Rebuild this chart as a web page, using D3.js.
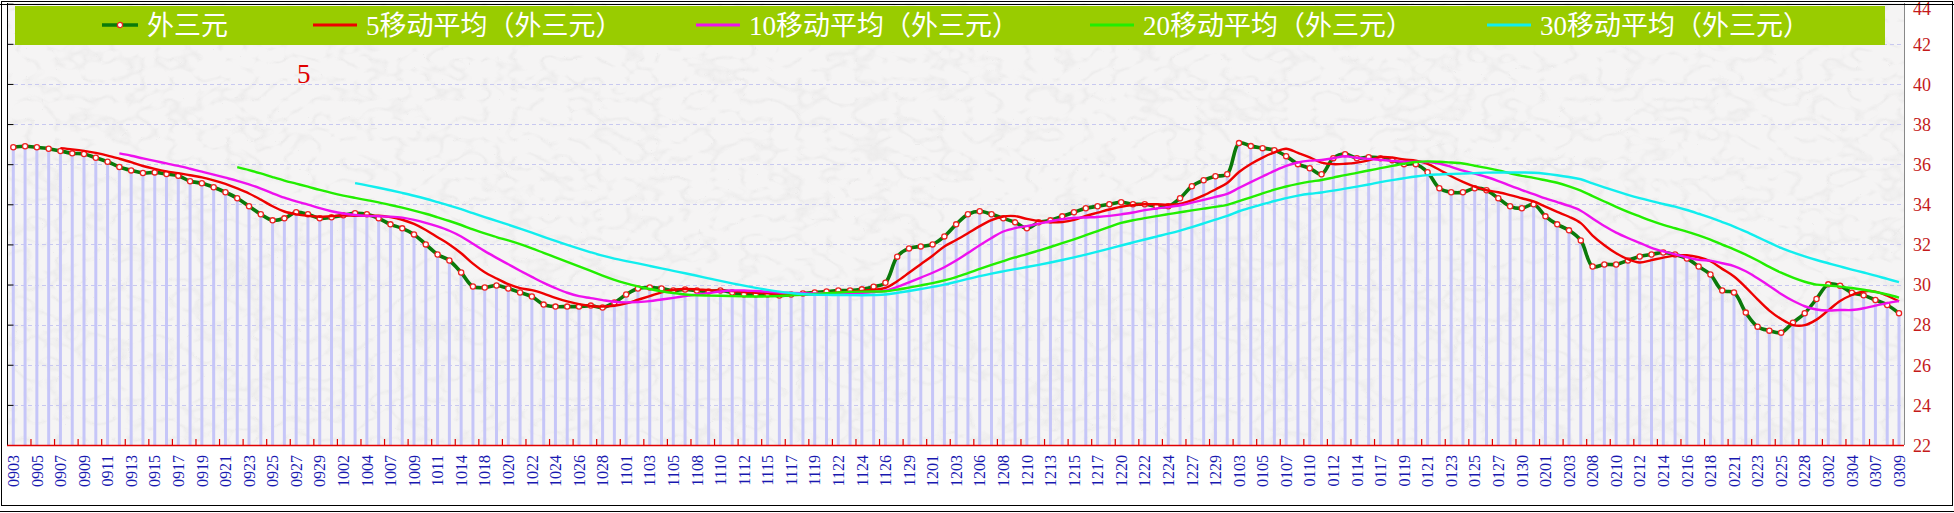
<!DOCTYPE html>
<html><head><meta charset="utf-8">
<script src="https://cdn.jsdelivr.net/npm/d3@7"></script>
<style>body{margin:0;background:#fff;overflow:hidden}svg{display:block}</style>
</head><body>
<svg id="c" width="1954" height="513"></svg>
<script>
// ---- data ----
const dates = ["0903","0904","0905","0906","0907","0908","0909","0910","0911","0912","0913","0914","0915","0916","0917","0918","0919","0920","0921","0922","0923","0924","0925","0926","0927","0928","0929","0930","1002","1003","1004","1005","1007","1008","1009","1010","1011","1012","1014","1016","1018","1019","1020","1021","1022","1023","1024","1025","1026","1027","1028","1029","1101","1102","1103","1104","1105","1106","1108","1109","1110","1111","1112","1113","1115","1116","1117","1118","1119","1120","1122","1123","1124","1125","1126","1127","1129","1130","1201","1202","1203","1204","1206","1207","1208","1209","1210","1211","1213","1214","1215","1216","1217","1218","1220","1221","1222","1223","1224","1225","1227","1228","1229","1230","0103","0104","0105","0106","0107","0108","0110","0111","0112","0113","0114","0115","0117","0118","0119","0120","0121","0122","0123","0124","0125","0126","0127","0128","0130","0131","0201","0202","0203","0205","0208","0209","0210","0211","0212","0213","0214","0215","0216","0217","0218","0219","0221","0222","0223","0224","0225","0226","0228","0301","0302","0303","0304","0305","0307","0308","0309"];
const values = [36.84,36.89,36.84,36.77,36.66,36.54,36.51,36.32,36.12,35.86,35.69,35.56,35.59,35.51,35.42,35.15,35.05,34.85,34.6,34.3,33.9,33.5,33.2,33.3,33.6,33.5,33.3,33.35,33.45,33.55,33.5,33.3,33.0,32.8,32.5,32.0,31.5,31.2,30.6,29.9,29.85,29.95,29.8,29.6,29.4,29.0,28.9,28.9,28.9,28.95,28.85,29.1,29.5,29.8,29.85,29.8,29.7,29.75,29.7,29.65,29.7,29.6,29.5,29.5,29.5,29.45,29.5,29.55,29.6,29.65,29.7,29.7,29.76,29.89,30.09,31.39,31.8,31.9,32.0,32.4,33.0,33.5,33.65,33.5,33.3,33.1,32.8,33.1,33.2,33.4,33.6,33.8,33.9,34.0,34.1,34.0,34.0,33.9,33.9,34.3,34.9,35.2,35.4,35.5,37.05,36.9,36.8,36.7,36.4,36.0,35.8,35.5,36.3,36.5,36.3,36.35,36.3,36.2,36.0,36.0,35.6,34.8,34.6,34.6,34.8,34.7,34.3,33.9,33.8,34.0,33.4,33.0,32.7,32.2,30.9,31.0,31.0,31.2,31.4,31.5,31.6,31.5,31.3,30.9,30.5,29.7,29.6,28.6,27.9,27.7,27.60,28.10,28.57,29.28,30.01,29.94,29.59,29.46,29.23,28.98,28.57];
const maPeriods = [5, 10, 20, 30];
const seriesNames = ["外三元", "5移动平均（外三元）", "10移动平均（外三元）", "20移动平均（外三元）", "30移动平均（外三元）"];
const yTickValues = [22, 24, 26, 28, 30, 32, 34, 36, 38, 40, 42, 44];
const annotation = "5";

// ---- styles ----
const lineColors = ["#0a7a0a", "#ee0000", "#ee11ee", "#22ee00", "#11eeee"];
const W = 1954, H = 513;
const plotL = 7, plotR = 1904, plotT = 3, plotB = 445;

const svg = d3.select("#c");
svg.append("rect").attr("width", W).attr("height", H).attr("fill", "#fff");

// paper texture
const defs = svg.append("defs");
const f = defs.append("filter").attr("id", "paper").attr("x", 0).attr("y", 0).attr("width", 1).attr("height", 1);
f.append("feTurbulence").attr("type", "turbulence").attr("baseFrequency", "0.035 0.05").attr("numOctaves", 2).attr("seed", 7).attr("result", "n");
f.append("feColorMatrix").attr("in", "n").attr("type", "matrix")
  .attr("values", "0 0 0 0 0.5  0 0 0 0 0.5  0 0 0 0 0.5  -3 0 0 0 0.6").attr("result", "m");
f.append("feComposite").attr("in", "m").attr("in2", "SourceGraphic").attr("operator", "in");

svg.append("rect").attr("x", plotL).attr("y", plotT).attr("width", plotR - plotL).attr("height", plotB - plotT).attr("fill", "#f5f4f4");
svg.append("rect").attr("x", plotL).attr("y", plotT).attr("width", plotR - plotL).attr("height", plotB - plotT).attr("fill", "#fff").attr("filter", "url(#paper)").attr("opacity", 0.25);

const x = d3.scalePoint().domain(d3.range(dates.length)).range([13.3, 1899]);
const y = d3.scaleLinear().domain([22, 44]).range([plotB, 3.7]);

// gridlines
svg.append("g").selectAll("line").data(yTickValues.slice(1)).join("line")
  .attr("x1", plotL).attr("x2", plotR).attr("y1", d => Math.round(y(d)) + 0.5).attr("y2", d => Math.round(y(d)) + 0.5)
  .attr("stroke", "#c8c8f0").attr("stroke-width", 1).attr("stroke-dasharray", "4,3");

// drop bars
svg.append("g").selectAll("line").data(values).join("line")
  .attr("x1", (d, i) => x(i)).attr("x2", (d, i) => x(i))
  .attr("y1", d => y(d)).attr("y2", plotB)
  .attr("stroke", "#c6c6f8").attr("stroke-width", 3);

// left axis
const leftAxis = d3.axisRight(y).tickValues(yTickValues.slice(1)).tickSize(6).tickFormat("");
const la = svg.append("g").attr("transform", `translate(${plotL + 0.5},0)`).call(leftAxis);
la.select(".domain").attr("stroke", "#000").attr("d", `M0,${plotT}V${plotB}`);
la.selectAll(".tick line").attr("stroke", "#000");

// right border
svg.append("line").attr("x1", plotR + 0.5).attr("x2", plotR + 0.5).attr("y1", plotT).attr("y2", plotB).attr("stroke", "#888");

// right axis labels
const ra = svg.append("g").attr("transform", `translate(1913,0)`)
  .call(d3.axisRight(y).tickValues(yTickValues).tickSize(0).tickPadding(0).tickFormat(d3.format("d")));
ra.select(".domain").remove();
ra.selectAll("text").attr("font-family", "Liberation Serif, serif").attr("font-size", 18).attr("fill", "#c41a1a").attr("text-anchor", "start")
  .attr("dy", d => d === 44 ? "0.62em" : "0.35em");

// bottom axis
const tickIdx = d3.range(1, dates.length - 1, 2);
svg.append("line").attr("x1", plotL).attr("x2", plotR).attr("y1", plotB + 0.5).attr("y2", plotB + 0.5).attr("stroke", "#e00000").attr("stroke-width", 1.5);
svg.append("g").selectAll("line").data(tickIdx).join("line")
  .attr("x1", i => (x(i) + x(i + 1)) / 2).attr("x2", i => (x(i) + x(i + 1)) / 2)
  .attr("y1", plotB - 6).attr("y2", plotB)
  .attr("stroke", "#e00000").attr("stroke-width", 1.2);

// x labels
const labelIdx = d3.range(0, dates.length, 2);
svg.append("g").selectAll("text").data(labelIdx).join("text")
  .attr("transform", i => `translate(${x(i)},455) rotate(-90)`)
  .attr("text-anchor", "end").attr("dy", "0.36em")
  .attr("font-family", "Liberation Serif, serif").attr("font-size", 16).attr("fill", "#1818b0")
  .text(i => dates[i]);

// main line
const curve = d3.curveCatmullRom.alpha(0.5);
const mainLine = d3.line().x((d, i) => x(i)).y(d => y(d)).curve(curve);
svg.append("path").attr("d", mainLine(values)).attr("fill", "none").attr("stroke", lineColors[0]).attr("stroke-width", 3.6);
svg.append("g").selectAll("circle").data(values).join("circle")
  .attr("cx", (d, i) => x(i)).attr("cy", d => y(d)).attr("r", 2.6)
  .attr("fill", "#fff").attr("stroke", "#ee2222").attr("stroke-width", 1.3);

// moving averages (the chart's own definition: n-period mean of the series)
function movingAverage(vals, n) {
  return vals.map((v, i) => i < n - 1 ? null : d3.mean(vals.slice(i - n + 1, i + 1)));
}
const maLine = d3.line().defined(d => d != null).x((d, i) => x(i)).y(d => y(d)).curve(curve);
maPeriods.forEach((n, k) => {
  const ma = movingAverage(values, n);
  svg.append("path").attr("d", maLine(ma)).attr("fill", "none").attr("stroke", lineColors[k + 1]).attr("stroke-width", 2.4);
});

// annotation
svg.append("text").attr("x", 297).attr("y", 83).attr("font-family", "Liberation Serif, serif").attr("font-size", 27).attr("fill", "#e00000").text(annotation);

// legend
svg.append("rect").attr("x", 15).attr("y", 6).attr("width", 1870).attr("height", 39).attr("fill", "#99cc00");
const legX = [102, 313, 696, 1090, 1487];
const lg = svg.append("g").selectAll("g").data(seriesNames).join("g").attr("transform", (d, i) => `translate(${legX[i]},25)`);
lg.append("line").attr("x1", 0).attr("x2", (d, i) => i === 0 ? 36 : 44).attr("stroke", (d, i) => lineColors[i]).attr("stroke-width", (d, i) => i === 0 ? 3.5 : 3);
lg.filter((d, i) => i === 0).append("circle").attr("cx", 18).attr("r", 2.6).attr("fill", "#fff").attr("stroke", "#ee2222").attr("stroke-width", 1.3);
lg.append("text").attr("x", (d, i) => i === 0 ? 45 : 53).attr("dy", "0.36em")
  .attr("font-family", "Liberation Serif, 'Noto Sans CJK SC', serif").attr("font-size", 27).attr("fill", "#fff").text(d => d);

// frame
svg.append("rect").attr("x", 1.5).attr("y", 1.5).attr("width", 1951).attr("height", 504).attr("fill", "none").attr("stroke", "#000");
svg.append("line").attr("x1", 0).attr("x2", W).attr("y1", 4.5).attr("y2", 4.5).attr("stroke", "#000");
svg.append("line").attr("x1", 0).attr("x2", W).attr("y1", 511.5).attr("y2", 511.5).attr("stroke", "#000");
</script>
</body></html>
